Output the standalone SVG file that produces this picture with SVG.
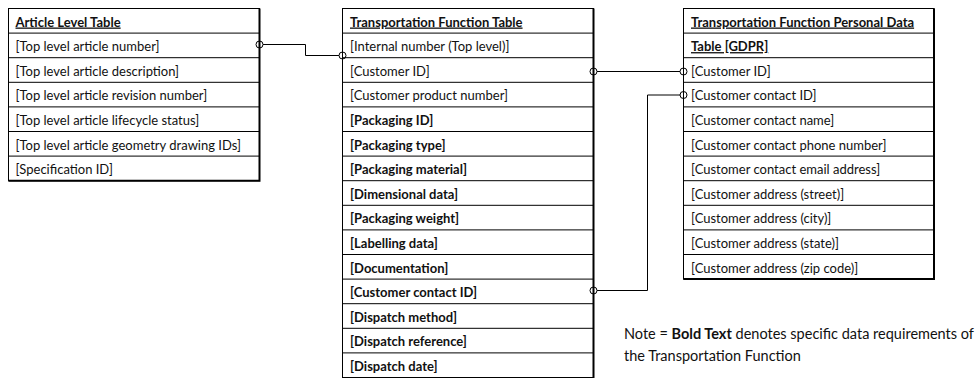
<svg xmlns="http://www.w3.org/2000/svg" width="976" height="379" viewBox="0 0 976 379">
  <style>
    .frame { fill: #ffffff; stroke: #000000; stroke-width: 1; }
    .edge { fill: none; stroke: #000000; stroke-width: 2; }
    .rule { stroke: #000000; stroke-width: 1; }
    .cell { font-family: Lato, "Liberation Sans", sans-serif; font-size: 13px; fill: #111111; }
    .key { font-weight: bold; }
    .title { font-weight: bold; text-decoration: underline; }
    .memo { font-size: 14.5px; }
    .link { fill: none; stroke: #000000; stroke-width: 1; }
    .end { fill: none; stroke: #000000; stroke-width: 1; }
  </style>

  <!-- Article level entity -->
  <g id="article-level-table">
    <rect class="frame" x="8.5" y="8.5" width="251" height="172.2"/>
    <path class="edge" d="M259.5 8.5 V181 M8.5 180.7 H260.5"/>
    <path class="rule" d="M8.5 33.1 H259.5 M8.5 57.7 H259.5 M8.5 82.3 H259.5 M8.5 106.9 H259.5 M8.5 131.5 H259.5 M8.5 156.1 H259.5"/>
    <text class="cell title" x="15.5" y="26.5">Article Level Table</text>
    <text class="cell" x="15.5" y="51.1">[Top level article number]</text>
    <text class="cell" x="15.5" y="75.7">[Top level article description]</text>
    <text class="cell" x="15.5" y="100.3">[Top level article revision number]</text>
    <text class="cell" x="15.5" y="124.9">[Top level article lifecycle status]</text>
    <text class="cell" x="15.5" y="149.5">[Top level article geometry drawing IDs]</text>
    <text class="cell" x="15.5" y="174.1">[Specification ID]</text>
  </g>

  <!-- Transportation function entity -->
  <g id="transportation-function-table">
    <rect class="frame" x="342.5" y="8.5" width="251" height="369"/>
    <path class="edge" d="M593.5 8.5 V378"/>
    <path class="rule" d="M342.5 33.1 H593.5 M342.5 57.7 H593.5 M342.5 82.3 H593.5 M342.5 106.9 H593.5 M342.5 131.5 H593.5 M342.5 156.1 H593.5 M342.5 180.7 H593.5 M342.5 205.3 H593.5 M342.5 229.9 H593.5 M342.5 254.5 H593.5 M342.5 279.1 H593.5 M342.5 303.7 H593.5 M342.5 328.3 H593.5 M342.5 352.9 H593.5"/>
    <text class="cell title" x="350" y="26.5">Transportation Function Table</text>
    <text class="cell" x="350" y="51.1">[Internal number (Top level)]</text>
    <text class="cell" x="350" y="75.7">[Customer ID]</text>
    <text class="cell" x="350" y="100.3">[Customer product number]</text>
    <text class="cell key" x="350" y="124.9">[Packaging ID]</text>
    <text class="cell key" x="350" y="149.5">[Packaging type]</text>
    <text class="cell key" x="350" y="174.1">[Packaging material]</text>
    <text class="cell key" x="350" y="198.7">[Dimensional data]</text>
    <text class="cell key" x="350" y="223.3">[Packaging weight]</text>
    <text class="cell key" x="350" y="247.9">[Labelling data]</text>
    <text class="cell key" x="350" y="272.5">[Documentation]</text>
    <text class="cell key" x="350" y="297.1">[Customer contact ID]</text>
    <text class="cell key" x="350" y="321.7">[Dispatch method]</text>
    <text class="cell key" x="350" y="346.3">[Dispatch reference]</text>
    <text class="cell key" x="350" y="370.9">[Dispatch date]</text>
  </g>

  <!-- Personal data entity (GDPR) -->
  <g id="personal-data-table">
    <rect class="frame" x="683.5" y="8.5" width="250.5" height="270.6"/>
    <path class="edge" d="M934 8.5 V279.6 M683.5 279.1 H935"/>
    <path class="rule" d="M683.5 33.1 H934 M683.5 57.7 H934 M683.5 82.3 H934 M683.5 106.9 H934 M683.5 131.5 H934 M683.5 156.1 H934 M683.5 180.7 H934 M683.5 205.3 H934 M683.5 229.9 H934 M683.5 254.5 H934"/>
    <text class="cell title" x="691" y="26.5">Transportation Function Personal Data</text>
    <text class="cell title" x="691" y="51.1">Table [GDPR]</text>
    <text class="cell" x="691" y="75.7">[Customer ID]</text>
    <text class="cell" x="691" y="100.3">[Customer contact ID]</text>
    <text class="cell" x="691" y="124.9">[Customer contact name]</text>
    <text class="cell" x="691" y="149.5">[Customer contact phone number]</text>
    <text class="cell" x="691" y="174.1">[Customer contact email address]</text>
    <text class="cell" x="691" y="198.7">[Customer address (street)]</text>
    <text class="cell" x="691" y="223.3">[Customer address (city)]</text>
    <text class="cell" x="691" y="247.9">[Customer address (state)]</text>
    <text class="cell" x="691" y="272.5">[Customer address (zip code)]</text>
  </g>

  <!-- Relationship lines with open-circle ends -->
  <g id="connectors">
    <path class="link" d="M263 44.5 H305.5 V55.5 H339"/>
    <circle class="end" cx="259.5" cy="44.5" r="3.5"/>
    <circle class="end" cx="342.5" cy="55.5" r="3.5"/>

    <path class="link" d="M597 71.5 H680"/>
    <circle class="end" cx="593.5" cy="71.5" r="3.5"/>
    <circle class="end" cx="683.5" cy="71.5" r="3.5"/>

    <path class="link" d="M597 290.5 H647.5 V95 H680"/>
    <circle class="end" cx="593.5" cy="290.5" r="3.5"/>
    <circle class="end" cx="683.5" cy="95" r="3.5"/>
  </g>

  <!-- Legend -->
  <g id="note">
    <text class="cell memo" x="624" y="338.5">Note = <tspan font-weight="bold">Bold Text</tspan> denotes specific data requirements of</text>
    <text class="cell memo" x="624" y="361">the Transportation Function</text>
  </g>
</svg>
